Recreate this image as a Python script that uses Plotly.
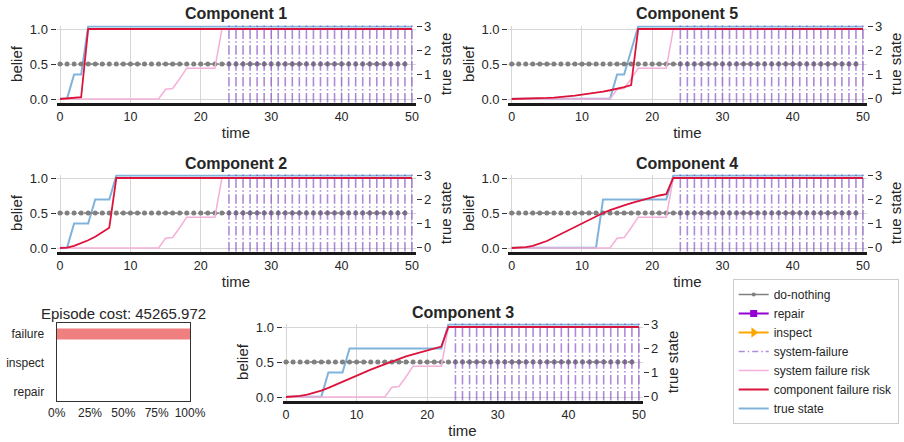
import plotly.graph_objects as go

# ---------------- data ----------------
time_steps = list(range(51))

system_failure_risk = [0, 0, 0, 0, 0, 0, 0, 0, 0, 0, 0, 0, 0, 0, 0,
                       0.14, 0.15, 0.29, 0.44, 0.44, 0.44, 0.44, 0.44,
                       1, 1, 1, 1, 1, 1, 1, 1, 1, 1,
                       1, 1, 1, 1, 1, 1, 1, 1, 1, 1,
                       1, 1, 1, 1, 1, 1, 1, 1]

comp1_state = [0, 0, 1, 1,
               3, 3, 3, 3, 3, 3, 3, 3, 3, 3,
               3, 3, 3, 3, 3, 3, 3, 3, 3, 3,
               3, 3, 3, 3, 3, 3, 3, 3, 3, 3,
               3, 3, 3, 3, 3, 3, 3, 3, 3, 3,
               3, 3, 3, 3, 3, 3, 3]
comp1_risk = [0, 0.005, 0.01, 0.025,
              1, 1, 1, 1, 1, 1, 1, 1, 1, 1,
              1, 1, 1, 1, 1, 1, 1, 1, 1, 1,
              1, 1, 1, 1, 1, 1, 1, 1, 1, 1,
              1, 1, 1, 1, 1, 1, 1, 1, 1, 1,
              1, 1, 1, 1, 1, 1, 1]

comp2_state = [0, 0, 1, 1, 1, 2, 2, 2,
               3, 3, 3, 3, 3, 3, 3, 3, 3, 3,
               3, 3, 3, 3, 3, 3, 3, 3, 3, 3,
               3, 3, 3, 3, 3, 3, 3, 3, 3, 3,
               3, 3, 3, 3, 3, 3, 3, 3, 3, 3,
               3, 3, 3]
comp2_risk = [0, 0.005, 0.03, 0.065, 0.11, 0.16, 0.22, 0.29,
              1, 1, 1, 1, 1, 1, 1, 1, 1, 1,
              1, 1, 1, 1, 1, 1, 1, 1, 1, 1,
              1, 1, 1, 1, 1, 1, 1, 1, 1, 1,
              1, 1, 1, 1, 1, 1, 1, 1, 1, 1,
              1, 1, 1]

comp3_state = [0, 0, 0, 0, 0, 0, 1, 1, 1,
               2, 2, 2, 2, 2, 2, 2, 2, 2, 2, 2, 2, 2, 2,
               3, 3, 3, 3, 3, 3, 3, 3, 3, 3,
               3, 3, 3, 3, 3, 3, 3, 3, 3, 3,
               3, 3, 3, 3, 3, 3, 3, 3]
comp3_risk = [0, 0.004, 0.015, 0.035, 0.06, 0.09, 0.13, 0.175, 0.22, 0.265,
              0.31, 0.35, 0.39, 0.43, 0.47, 0.51, 0.545, 0.58, 0.61, 0.64,
              0.67, 0.70, 0.72,
              1, 1, 1, 1, 1, 1, 1, 1, 1, 1,
              1, 1, 1, 1, 1, 1, 1, 1, 1, 1,
              1, 1, 1, 1, 1, 1, 1, 1]

comp4_state = [0, 0, 0, 0, 0, 0, 0, 0, 0, 0, 0, 0, 0,
               2, 2, 2, 2, 2, 2, 2, 2, 2, 2,
               3, 3, 3, 3, 3, 3, 3, 3, 3, 3,
               3, 3, 3, 3, 3, 3, 3, 3, 3, 3,
               3, 3, 3, 3, 3, 3, 3, 3]
comp4_risk = [0, 0.003, 0.012, 0.03, 0.06, 0.10, 0.15, 0.20, 0.26, 0.31,
              0.36, 0.41, 0.46, 0.50, 0.54, 0.58, 0.61, 0.64, 0.67, 0.70,
              0.72, 0.75, 0.77,
              1, 1, 1, 1, 1, 1, 1, 1, 1, 1,
              1, 1, 1, 1, 1, 1, 1, 1, 1, 1,
              1, 1, 1, 1, 1, 1, 1, 1]

comp5_state = [0, 0, 0, 0, 0, 0, 0, 0, 0, 0, 0, 0, 0, 0, 0,
               1, 1, 2,
               3, 3, 3, 3, 3, 3, 3, 3, 3, 3,
               3, 3, 3, 3, 3, 3, 3, 3, 3, 3,
               3, 3, 3, 3, 3, 3, 3, 3, 3, 3,
               3, 3, 3]
comp5_risk = [0, 0.001, 0.003, 0.006, 0.01, 0.015, 0.021, 0.028, 0.037, 0.047,
              0.062, 0.075, 0.09, 0.105, 0.125, 0.145, 0.17, 0.20,
              1, 1, 1, 1, 1, 1, 1, 1, 1, 1,
              1, 1, 1, 1, 1, 1, 1, 1, 1, 1,
              1, 1, 1, 1, 1, 1, 1, 1, 1, 1,
              1, 1, 1]

do_nothing_steps = list(range(50))
do_nothing_level = 0.5
system_failure_steps = list(range(24, 51))

action_labels = ["failure", "inspect", "repair"]
action_share = [1.0, 0.0, 0.0]
episode_cost = 45265.972

for s in [system_failure_risk, comp1_state, comp1_risk, comp2_state, comp2_risk,
          comp3_state, comp3_risk, comp4_state, comp4_risk, comp5_state, comp5_risk]:
    assert len(s) == 51, len(s)

# ---------------- styling ----------------
W, HT = 904, 442
FONT = "Liberation Sans, Arial, sans-serif"
TXT = "#262626"
GRID = "#d6d6d6"
C_GRAY = "#808080"
C_PINK = "#f5b0d9"
C_RED = "#dc143c"
C_BLUE = "#80b3dc"
C_PURPLE = "rgba(120,60,190,0.6)"
C_VIOLET = "#9400d3"
C_ORANGE = "#ffa500"
DASHDOT = "9.6px,2.4px,1.5px,2.4px"


def xid(n):
    return "x" if n == 1 else f"x{n}"


def yid(n):
    return "y" if n == 1 else f"y{n}"


panels = [
    ("Component 1", comp1_state, comp1_risk, (56.5, 415.5), 25.5, 13),
    ("Component 5", comp5_state, comp5_risk, (508.2, 866.5), 25.5, 13),
    ("Component 2", comp2_state, comp2_risk, (56.5, 415.5), 174.5, 163),
    ("Component 4", comp4_state, comp4_risk, (508.2, 866.5), 174.5, 163),
    ("Component 3", comp3_state, comp3_risk, (282.5, 642.5), 323.5, 312),
]
PH = 77

fig = go.Figure()
layout = dict(
    width=W, height=HT,
    margin=dict(l=0, r=0, t=0, b=0, pad=0, autoexpand=False),
    paper_bgcolor="white", plot_bgcolor="white",
    font=dict(family=FONT, color=TXT, size=12),
    showlegend=True,
    legend=dict(x=732.7 / W, y=1 - 279 / HT, xanchor="left", yanchor="top",
                bgcolor="white", bordercolor="#cccccc", borderwidth=1,
                font=dict(size=12, color=TXT), tracegroupgap=0, itemwidth=30),
)
annotations = []
shapes = []

for k, (name, state, risk, (x0, x1), top, title_y) in enumerate(panels, start=1):
    base = 2 * k - 1
    over = 2 * k
    xa, yb, yo = xid(k), yid(base), yid(over)
    layout["xaxis" + xa[1:]] = dict(
        domain=[x0 / W, x1 / W], anchor=yb, range=[-0.5, 50.5], automargin=False,
        tickvals=[0, 10, 20, 30, 40, 50], ticks="", showgrid=True,
        gridcolor=GRID, gridwidth=1.2, zeroline=False, showline=True,
        linecolor="#1a1a1a", linewidth=3, tickfont=dict(size=12.5, color=TXT),
        title=dict(text="time", font=dict(size=15, color=TXT), standoff=5),
    )
    layout["yaxis" + yb[1:]] = dict(
        domain=[1 - (top + PH) / HT, 1 - top / HT], anchor=xa, side="right",
        range=[-0.16, 3.04], tickvals=[0, 1, 2, 3], ticks="outside", ticklen=5,
        tickcolor="#333333", showgrid=False, zeroline=False, showline=False,
        tickfont=dict(size=13, color=TXT), automargin=False,
        title=dict(text="true state", font=dict(size=15, color=TXT), standoff=10),
    )
    layout["yaxis" + yo[1:]] = dict(
        overlaying=yb, anchor=xa, side="left", range=[-0.05, 1.05],
        tickvals=[0, 0.5, 1], ticktext=["0.0", "0.5", "1.0"], ticks="outside",
        ticklen=5, tickcolor="#333333", showgrid=True, gridcolor=GRID,
        gridwidth=1.2, zeroline=False, showline=False,
        tickfont=dict(size=13, color=TXT), automargin=False,
        title=dict(text="belief", font=dict(size=15, color=TXT), standoff=3),
    )
    # true state (base axis, drawn underneath)
    fig.add_trace(go.Scatter(x=time_steps, y=state, mode="lines",
                             line=dict(color=C_BLUE, width=2),
                             xaxis=xa, yaxis=yb, showlegend=False, hoverinfo="skip"))
    # do-nothing actions
    fig.add_trace(go.Scatter(x=do_nothing_steps,
                             y=[do_nothing_level for _ in do_nothing_steps],
                             mode="lines+markers",
                             line=dict(color=C_GRAY, width=1.5, dash="dot"),
                             marker=dict(color=C_GRAY, size=5),
                             xaxis=xa, yaxis=yo, showlegend=False, hoverinfo="skip"))
    # system failure risk
    fig.add_trace(go.Scatter(x=time_steps, y=system_failure_risk, mode="lines",
                             line=dict(color=C_PINK, width=1.5),
                             xaxis=xa, yaxis=yo, showlegend=False, hoverinfo="skip"))
    # component failure risk
    fig.add_trace(go.Scatter(x=time_steps, y=risk, mode="lines",
                             line=dict(color=C_RED, width=1.8),
                             xaxis=xa, yaxis=yo, showlegend=False, hoverinfo="skip"))
    # system-failure vertical lines
    for t in system_failure_steps:
        shapes.append(dict(type="line", xref=xa, yref=f"{yb} domain",
                           x0=t, x1=t, y0=0, y1=1, layer="above",
                           line=dict(color=C_PURPLE, width=1.6, dash=DASHDOT)))
    annotations.append(dict(text=name, x=(x0 + x1) / 2 / W, y=1 - title_y / HT,
                            xref="paper", yref="paper", showarrow=False,
                            xanchor="center", yanchor="middle",
                            font=dict(size=16, color=TXT, weight="bold")))

# ---------------- action share bar panel ----------------
bx0, bx1, by0, by1 = 56.7, 190.0, 323.0, 401.0
layout["xaxis11"] = dict(
    domain=[bx0 / W, bx1 / W], anchor="y11", range=[0, 1], automargin=False,
    tickvals=[0, 0.25, 0.5, 0.75, 1], ticktext=["0%", "25%", "50%", "75%", "100%"],
    ticks="", showgrid=False, zeroline=False, showline=True, mirror=True,
    linecolor="#333333", linewidth=1.2, tickfont=dict(size=12, color=TXT),
)
layout["yaxis11"] = dict(
    domain=[1 - by1 / HT, 1 - by0 / HT], anchor="x11", type="category",
    categoryorder="array", categoryarray=["repair", "inspect", "failure"],
    range=[-0.31, 2.38], ticks="", ticklabelstandoff=9, showgrid=False,
    zeroline=False, showline=True, mirror=True, linecolor="#333333",
    linewidth=1.2, tickfont=dict(size=12, color=TXT), automargin=False,
)
fig.add_trace(go.Bar(x=action_share, y=action_labels, orientation="h",
                     marker=dict(color="#f08080", line=dict(width=0)), width=0.38,
                     xaxis="x11", yaxis="y11", showlegend=False, hoverinfo="skip"))
annotations.append(dict(text=f"Episode cost: {episode_cost:.3f}",
                        x=(bx0 + bx1) / 2 / W, y=1 - 313 / HT, xref="paper", yref="paper",
                        showarrow=False, xanchor="center", yanchor="middle",
                        font=dict(size=15, color=TXT)))

# ---------------- legend entries ----------------
legend_items = [
    ("do-nothing", dict(color=C_GRAY, width=1.5), dict(color=C_GRAY, size=4, symbol="circle"), "lines+markers"),
    ("repair", dict(color=C_VIOLET, width=2), dict(color=C_VIOLET, size=7, symbol="square"), "lines+markers"),
    ("inspect", dict(color=C_ORANGE, width=2), dict(color=C_ORANGE, size=9, symbol="triangle-right"), "lines+markers"),
    ("system-failure", dict(color=C_PURPLE, width=1.6, dash="6px,3px,1.5px,3px"), None, "lines"),
    ("system failure risk", dict(color=C_PINK, width=1.5), None, "lines"),
    ("component failure risk", dict(color=C_RED, width=1.8), None, "lines"),
    ("true state", dict(color=C_BLUE, width=2), None, "lines"),
]
for label, line, marker, mode in legend_items:
    kw = dict(marker=marker) if marker else {}
    fig.add_trace(go.Scatter(x=[None], y=[None], mode=mode, name=label, line=line,
                             xaxis="x", yaxis="y2", showlegend=True, **kw))

layout["annotations"] = annotations
layout["shapes"] = shapes
fig.update_layout(**layout)
fig.write_html("out.html")
